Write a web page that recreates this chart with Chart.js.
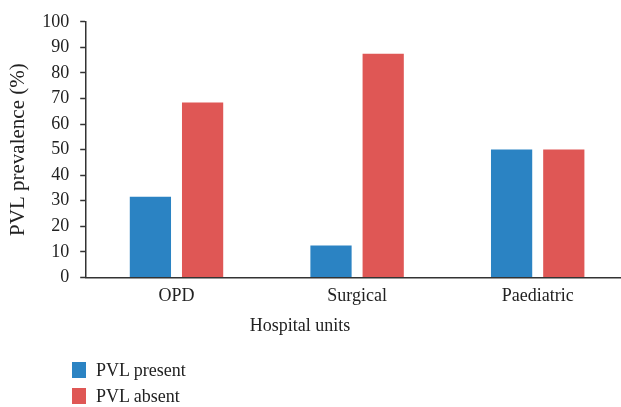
<!DOCTYPE html>
<html>
<head>
<meta charset="utf-8">
<script src="https://cdn.jsdelivr.net/npm/chart.js@4"></script>
<style>
  html, body { margin: 0; padding: 0; background: #fff; overflow: hidden; }
  #wrap { position: relative; width: 621px; height: 407px; overflow: hidden; }
  #legend { position: absolute; left: 72px; top: 357px; font-family: "Liberation Serif", "DejaVu Serif", serif; font-size: 18px; color: #222; }
  #xtitle { position: absolute; left: 200px; width: 200px; top: 314px; line-height: 22px; text-align: center; font-family: "Liberation Serif", "DejaVu Serif", serif; font-size: 18px; color: #222; }
  .item { display: flex; align-items: center; height: 26px; }
  .sw { width: 14px; height: 16px; margin-right: 10px; }
</style>
</head>
<body>
<div id="wrap">
  <canvas id="c" width="628" height="407"></canvas>
  <div id="xtitle"></div>
  <div id="legend"></div>
</div>
<script>
const categories = ["OPD", "Surgical", "Paediatric"];
const pvlPresent = [31.6, 12.5, 50];
const pvlAbsent = [68.4, 87.5, 50];
const seriesNames = ["PVL present", "PVL absent"];
const yTicks = [0, 10, 20, 30, 40, 50, 60, 70, 80, 90, 100];
const xTitle = "Hospital units";
const yTitle = "PVL prevalence (%)";

const colors = ["#2b83c3", "#df5755"];
const FONT = "'Liberation Serif', 'DejaVu Serif', serif";

const ctx = document.getElementById('c');
new Chart(ctx, {
  type: 'bar',
  data: {
    labels: categories,
    datasets: [
      { label: seriesNames[0], data: pvlPresent, backgroundColor: colors[0], barPercentage: 0.79, categoryPercentage: 0.578 },
      { label: seriesNames[1], data: pvlAbsent, backgroundColor: colors[1], barPercentage: 0.79, categoryPercentage: 0.578 }
    ]
  },
  options: {
    responsive: false,
    animation: false,
    devicePixelRatio: 1,
    layout: { padding: { top: 17, right: 0, bottom: 100, left: 6 } },
    plugins: { legend: { display: false }, tooltip: { enabled: false } },
    scales: {
      x: {
        grid: { display: false },
        border: { display: true, color: '#333', width: 1.5 },
        ticks: { color: '#222', font: { family: FONT, size: 18 }, padding: 0 },
        title: { display: false }
      },
      y: {
        min: 0, max: 100,
        afterBuildTicks: (axis) => { axis.ticks = yTicks.map(v => ({ value: v })); },
        grid: { display: true, drawOnChartArea: false, drawTicks: true, tickLength: 6, color: '#333', tickColor: '#333', tickWidth: 1.5 },
        border: { display: true, color: '#333', width: 1.5 },
        ticks: { color: '#222', font: { family: FONT, size: 18 }, padding: 11 },
        title: { display: true, text: yTitle, color: '#222', font: { family: FONT, size: 21 }, padding: { top: 0, bottom: 0 } }
      }
    }
  }
});

document.getElementById('xtitle').textContent = xTitle;
const legend = document.getElementById('legend');
seriesNames.forEach((name, i) => {
  const d = document.createElement('div');
  d.className = 'item';
  d.innerHTML = '<span class="sw" style="background:' + colors[i] + '"></span><span>' + name + '</span>';
  legend.appendChild(d);
});
</script>
</body>
</html>
